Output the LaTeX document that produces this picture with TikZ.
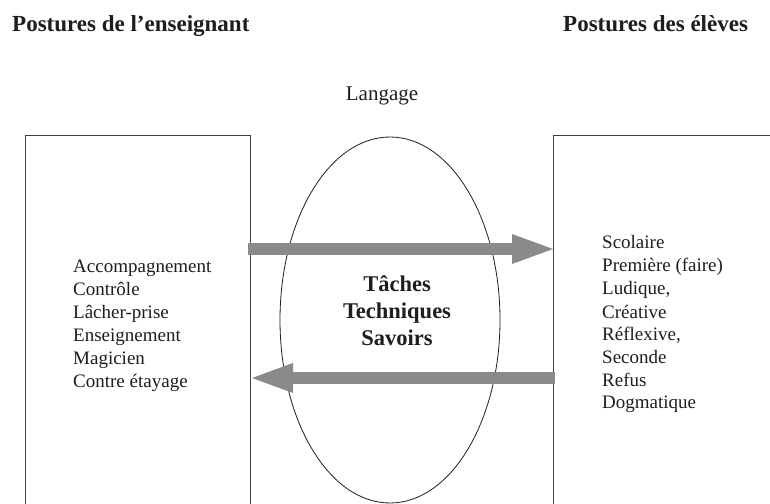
\documentclass[tikz,border=0pt]{standalone}
\usepackage{fontspec}
\setmainfont{Liberation Serif}
\usetikzlibrary{arrows.meta,shapes.geometric}
\definecolor{arrowgray}{RGB}{138,138,138}
\definecolor{ink}{RGB}{30,30,30}
\begin{document}
\begin{tikzpicture}[x=1bp,y=-1bp,
  boxline/.style={draw=black!75, line width=1bp, inner sep=0pt, anchor=north west},
  item/.style={anchor=base west, inner sep=0pt, text=ink, font=\fontsize{19bp}{23bp}\selectfont},
  titletext/.style={anchor=base west, inner sep=0pt, text=ink, font=\fontsize{23bp}{27bp}\selectfont\bfseries},
  centertext/.style={anchor=base, inner sep=0pt, text=ink, font=\fontsize{22.5bp}{27bp}\selectfont\bfseries},
  bigarrow/.style={draw=arrowgray, line width=12bp, -{Triangle[width=30bp,length=41bp,line width=0bp]}},
]
\clip (0,0) rectangle (770,504);
\fill[white] (0,0) rectangle (770,504);

% titles
\node[titletext] (tl) at (12,32) {Postures de l’enseignant};
\node[titletext] (tr) at (563,32) {Postures des élèves};
\node[anchor=base, inner sep=0pt, text=ink, font=\fontsize{21bp}{25bp}\selectfont] (lang) at (382,101) {Langage};

% boxes
\node[boxline, minimum width=225bp, minimum height=400bp] (leftbox) at (25,135) {};
\node[boxline, minimum width=260bp, minimum height=400bp] (rightbox) at (553,135) {};

% ellipse
\node[draw=ink, line width=0.8bp, ellipse, inner sep=0pt, minimum width=220bp, minimum height=366bp] (ell) at (390,320) {};

% arrows
\coordinate (a1s) at (248,249);
\coordinate (a1e) at (553,249);
\coordinate (a2s) at (555,378);
\coordinate (a2e) at (252,378);
\draw[bigarrow] (a1s) -- (a1e);
\draw[bigarrow] (a2s) -- (a2e);

% center text
\node[centertext] (c1) at (397,292) {Tâches};
\node[centertext] (c2) at (397,318) {Techniques};
\node[centertext] (c3) at (397,345) {Savoirs};

% left list
\node[item] (l1) at (73,273) {Accompagnement};
\node[item] (l2) at (73,296) {Contrôle};
\node[item] (l3) at (73,318) {Lâcher-prise};
\node[item] (l4) at (73,341) {Enseignement};
\node[item] (l5) at (73,364) {Magicien};
\node[item] (l6) at (73,387) {Contre étayage};

% right list
\node[item] (r1) at (602,249) {Scolaire};
\node[item] (r2) at (602,272) {Première (faire)};
\node[item] (r3) at (602,295) {Ludique,};
\node[item] (r4) at (602,318) {Créative};
\node[item] (r5) at (602,340) {Réflexive,};
\node[item] (r6) at (602,363) {Seconde};
\node[item] (r7) at (602,386) {Refus};
\node[item] (r8) at (602,408) {Dogmatique};
\end{tikzpicture}
\end{document}
